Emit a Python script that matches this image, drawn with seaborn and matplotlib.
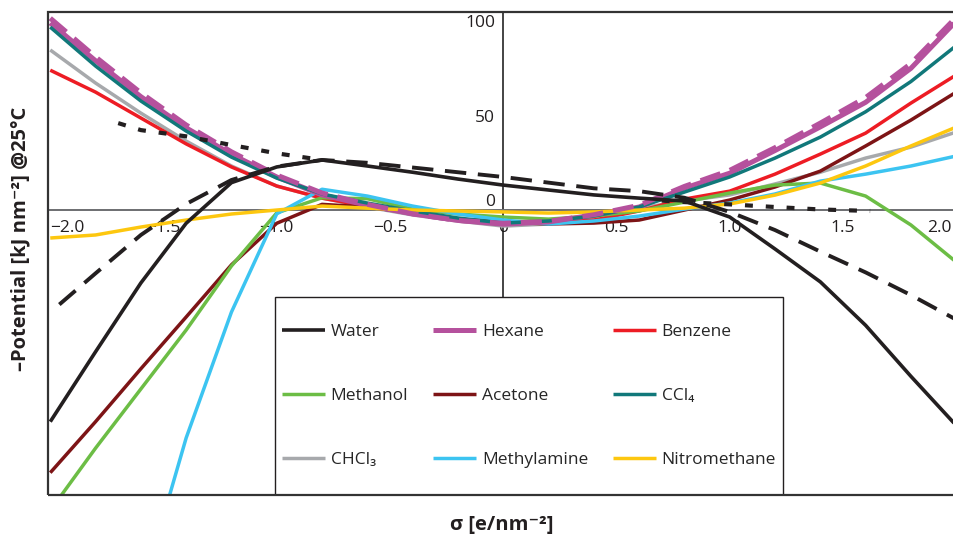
import matplotlib
matplotlib.use("Agg")
import matplotlib.pyplot as plt
from matplotlib.patches import Rectangle
from matplotlib.transforms import ScaledTranslation
import seaborn as sns
import pandas as pd

# ---------------- data ----------------
sigma = [-2.0, -1.8, -1.6, -1.4, -1.2, -1.0, -0.8, -0.6, -0.4, -0.2, 0.0,
         0.2, 0.4, 0.6, 0.8, 1.0, 1.2, 1.4, 1.6, 1.8, 2.0]

water = [-112, -75, -38.6, -7, 14.5, 22.8, 26.5, 23.3, 20, 16.4, 13.2,
         10.6, 8, 6.3, 4.8, -3.7, -20.6, -38, -61, -88, -114]
hexane = [99, 79, 60, 43.5, 29.5, 17.5, 8, 2.5, -2, -5.5, -7.5,
          -6.3, -2.6, 1.6, 11.6, 19.5, 31.5, 44, 57, 75, 100]
hexane_dashed = [101.5, 81, 62, 45, 30.8, 18.5, 9, 3, -2, -5.5, -7,
                 -6, -2.5, 2.5, 12.5, 21, 33, 46, 59.5, 77.5, 102]
benzene = [74, 62.4, 48.7, 35, 22.8, 12.7, 6.3, 2, -1.6, -4.8, -6.9,
           -6.9, -5.3, -0.5, 5.8, 10, 19, 29.6, 40.7, 56.6, 71.5]
methanol = [-159, -126, -94.7, -63.5, -29.6, -1.5, 6.5, 6, 0.5, -2.1, -3.7,
            -4.8, -3.2, -0.5, 4.2, 9, 13.2, 14.3, 7.4, -7.9, -27.5]
acetone = [-139, -112, -84, -56.6, -29, -7, 3, 1.6, -1.6, -4.8, -6.3,
           -7.4, -6.9, -5.3, 0, 5.3, 12.2, 20.6, 33.9, 47.6, 62.4]
ccl4 = [96.8, 76.2, 57.7, 41.8, 28, 16.9, 8.5, 3.7, -0.5, -4.2, -6.9,
        -5.8, -3.2, 1.6, 9.5, 17.5, 27.5, 38.6, 52, 68, 87]
chcl3 = [84.7, 67.2, 51.3, 36.5, 23.3, 12.7, 6.3, 1.6, -2.6, -5.8, -8.5,
         -7.4, -3.7, 1, 4.8, 8, 13.8, 20, 27.5, 33.3, 41.3]
nitromethane = [-14.8, -13.2, -9, -5.3, -2.1, 0, 2.1, 1, 0, -0.5, -1,
                -1.6, -1, 0, 1, 3.2, 7.9, 14.3, 23.3, 33.9, 43.9]

sigma_methylamine = [-1.5, -1.4, -1.2, -1.0, -0.8, -0.6, -0.4, -0.2, 0.0,
                     0.2, 0.4, 0.6, 0.8, 1.0, 1.2, 1.4, 1.6, 1.8, 2.0]
methylamine = [-162, -120.6, -54, -2, 11, 7.4, 2.1, -2.1, -5.3,
               -7.4, -5.8, -3.2, 0.5, 3.7, 8.5, 15.3, 19, 23.3, 28.6]

sigma_dashed = [-1.96, -1.8, -1.6, -1.4, -1.2, -1.0, -0.8, -0.6, -0.4, -0.2, 0.0,
                0.2, 0.4, 0.6, 0.8, 1.0, 1.2, 1.4, 1.6, 1.8, 2.0]
black_dashed = [-50, -33.5, -13.2, 3.2, 15.9, 23, 26.5, 25, 22.5, 20, 17.5,
                14.5, 11.5, 10, 6.5, -1, -10.6, -22, -33, -45, -58]

sigma_dotted_left = [-1.7, -1.6, -1.4, -1.2, -1.0, -0.8]
dotted_left = [46, 42.3, 39, 34.4, 30, 26.5]
sigma_dotted_right = [0.7, 0.8, 1.0, 1.2, 1.4, 1.62]
dotted_right = [5, 4.2, 3, 1.6, 0.3, -0.5]

x_ticks = [-2.0, -1.5, -1.0, -0.5, 0.0, 0.5, 1.0, 1.5, 2.0]
x_tick_labels = ["\u22122.0", "\u22121.5", "\u22121.0", "\u22120.5", "0",
                 "0.5", "1.0", "1.5", "2.0"]
y_ticks = [0, 50, 100]
y_tick_labels = ["0", "50", "100"]

# ---------------- style ----------------
sns.set_theme(style="white")
plt.rcParams["font.family"] = ["Open Sans", "DejaVu Sans"]
plt.rcParams["axes.unicode_minus"] = True

C_WATER = "#231f20"
C_HEX = "#b5519d"
C_BENZ = "#ed1c24"
C_METH = "#6cbd45"
C_ACET = "#7d1416"
C_CCL4 = "#11787a"
C_CHCL3 = "#a7a9ac"
C_MEA = "#3cc4f1"
C_NITRO = "#fdc70f"

fig = plt.figure(figsize=(9.54, 5.40), dpi=100)
ax = fig.add_axes([48 / 954, 45 / 540, 915 / 954, 483 / 540])
ax.set_xlim(-2.01, 2.03)
ax.set_ylim(-150.8, 104.8)


def draw(x, y, color, lw, label=None, ls="-", z=2):
    df = pd.DataFrame({"sigma": x, "potential": y})
    kw = dict(data=df, x="sigma", y="potential", ax=ax, color=color,
              linewidth=lw, linestyle=ls, sort=False, estimator=None,
              zorder=z)
    if label is None:
        sns.lineplot(legend=False, **kw)
    else:
        sns.lineplot(label=label, **kw)
    line = ax.lines[-1]
    line.set_solid_capstyle("butt")
    line.set_dash_capstyle("butt")
    return line


LW = 2.5
h_chcl3 = draw(sigma, chcl3, C_CHCL3, LW, "CHCl\u2083")
h_benz = draw(sigma, benzene, C_BENZ, LW, "Benzene")
h_acet = draw(sigma, acetone, C_ACET, LW, "Acetone")
h_meth = draw(sigma, methanol, C_METH, LW, "Methanol")
h_mea = draw(sigma_methylamine, methylamine, C_MEA, LW, "Methylamine")
h_hex = draw(sigma, hexane, C_HEX, 3.6, "Hexane")
h_ccl4 = draw(sigma, ccl4, C_CCL4, LW, "CCl\u2084")
draw(sigma, hexane_dashed, C_HEX, 3.6, ls=(0, (4.2, 2.0)), z=2.5)
h_nitro = draw(sigma, nitromethane, C_NITRO, LW, "Nitromethane")
h_water = draw(sigma, water, C_WATER, 2.6, "Water", z=3)
draw(sigma_dashed, black_dashed, C_WATER, 2.8, ls=(0, (5.5, 3.0)), z=3)
draw(sigma_dotted_left, dotted_left, C_WATER, 3.0, ls=(0, (1.9, 3.1)), z=3)
draw(sigma_dotted_right, dotted_right, C_WATER, 3.0, ls=(0, (1.9, 3.1)), z=3)

# ---------------- axes through the origin + frame ----------------
for s in ("top", "right"):
    ax.spines[s].set_visible(False)
ax.spines["left"].set_position(("data", 0))
ax.spines["left"].set_color("#111111")
ax.spines["left"].set_linewidth(1.1)
ax.spines["bottom"].set_position(("data", 0))
ax.spines["bottom"].set_color("#6d6e71")
ax.spines["bottom"].set_linewidth(1.4)
ax.spines["left"].set_zorder(1)
ax.spines["bottom"].set_zorder(1)
ax.add_patch(Rectangle((0, 0), 1, 1, transform=ax.transAxes, fill=False,
                       edgecolor="#333333", linewidth=1.6, clip_on=False,
                       zorder=8))

ax.set_xticks(x_ticks)
ax.set_xticklabels(x_tick_labels)
ax.set_yticks(y_ticks)
ax.set_yticklabels(y_tick_labels)
ax.tick_params(axis="x", direction="out", length=3, width=1, pad=4,
               labelsize=12.5, colors="#231f20")
ax.tick_params(axis="y", direction="out", length=4.3, width=1, pad=1.5,
               labelsize=12.5, colors="#231f20")
ax.get_xticklabels()[0].set_ha("left")
last = ax.get_xticklabels()[-1]
last.set_ha("right")
last.set_transform(last.get_transform()
                   + ScaledTranslation(-3 / 72, 0, fig.dpi_scale_trans))
ax.get_yticklabels()[0].set_va("bottom")

ax.set_xlabel("\u03c3 [e/nm\u207b\u00b2]", fontsize=14.5, fontweight="bold",
              color="#231f20")
ax.xaxis.set_label_coords(0.496, -0.042)
ax.set_ylabel("\u2013Potential [kJ nm\u207b\u00b2] @25\u00b0C", fontsize=14.5,
              fontweight="bold", color="#231f20")
ax.yaxis.set_label_coords(-0.019, 0.53)

# ---------------- legend ----------------
LEG_X0, LEG_W, LEG_H = 227 / 915, 508 / 915, 198 / 483
ax.add_patch(Rectangle((LEG_X0, 0), LEG_W, LEG_H, transform=ax.transAxes,
                       facecolor="white", edgecolor="#231f20", linewidth=1.0,
                       zorder=6))
handles = [h_water, h_meth, h_chcl3, h_hex, h_acet, h_mea, h_benz, h_ccl4, h_nitro]
labels = [h.get_label() for h in handles]
pad = 7 / 915
leg = ax.legend(handles, labels, loc="center",
                bbox_to_anchor=(LEG_X0 + pad, 0.0, LEG_W - 2 * pad, LEG_H),
                mode="expand", ncol=3, fontsize=12.5, frameon=False,
                borderpad=0.0, labelspacing=2.75, handlelength=2.45,
                handletextpad=0.35, borderaxespad=0.0, columnspacing=1.0)
leg.set_zorder(7)

fig.savefig("out.png", dpi=100)
